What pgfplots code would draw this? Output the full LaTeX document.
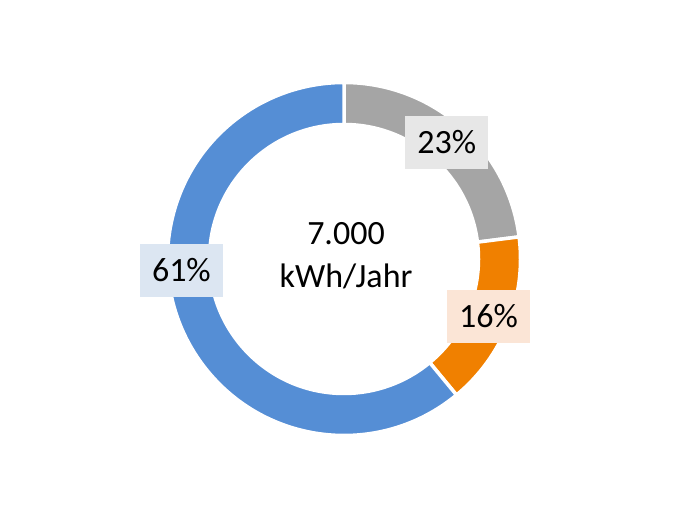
\documentclass[border=0pt]{standalone}
\usepackage{pgfplots}
\usepackage{pgfplotstable}
\pgfplotsset{compat=1.18}
\usepackage{fontspec}
\setmainfont{Carlito}

\definecolor{grayseg}{HTML}{A5A5A5}
\definecolor{orangeseg}{HTML}{F08000}
\definecolor{blueseg}{HTML}{558ED5}
\definecolor{graybox}{HTML}{E7E7E7}
\definecolor{orangebox}{HTML}{FBE5D6}
\definecolor{bluebox}{HTML}{DCE6F2}

% share in percent, segment colour, label box colour, label angle, label radius
\pgfplotstableread{
share col      box       la    lr
23    grayseg  graybox   mid   155.5
16    orangeseg orangebox mid  155.5
61    blueseg  bluebox   184   163
}\donut

\begin{document}
\begin{tikzpicture}
\begin{axis}[
    scale only axis,
    width=680bp, height=510bp,
    xmin=0, xmax=680, ymin=0, ymax=510,
    hide axis, clip=false,
]
\def\cx{344}
\def\cy{251}
\def\rout{176.5}
\def\rin{134.5}
\pgfplotstablegetrowsof{\donut}
\pgfmathtruncatemacro\nrows{\pgfplotsretval-1}
\def\startang{90}
\pgfplotsforeachungrouped \i in {0,...,\nrows}{
    \pgfplotstablegetelem{\i}{share}\of\donut \let\share\pgfplotsretval
    \pgfplotstablegetelem{\i}{col}\of\donut \let\col\pgfplotsretval
    \pgfplotstablegetelem{\i}{box}\of\donut \let\boxcol\pgfplotsretval
    \pgfplotstablegetelem{\i}{la}\of\donut \let\la\pgfplotsretval
    \pgfplotstablegetelem{\i}{lr}\of\donut \let\lr\pgfplotsretval
    \pgfmathsetmacro\endang{\startang-3.6*\share}
    \def\mid{mid}
    \ifx\la\mid
        \pgfmathsetmacro\la{(\startang+\endang)/2}
    \fi
    \pgfmathsetmacro\lx{\cx+\lr*cos(\la)}
    \pgfmathsetmacro\ly{\cy+\lr*sin(\la)}
    \edef\doit{%
        \noexpand\fill[\col, draw=white, line width=3.5bp, shift={(axis cs:\cx,\cy)}]
            (canvas polar cs:angle=\startang,radius=\rout bp)
            arc[start angle=\startang, end angle=\endang, radius=\rout bp]
            -- (canvas polar cs:angle=\endang,radius=\rin bp)
            arc[start angle=\endang, end angle=\startang, radius=\rin bp]
            -- cycle;
        \noexpand\node[fill=\boxcol, minimum width=83bp, minimum height=53bp,
            inner sep=0pt, font=\noexpand\fontsize{34bp}{40bp}\noexpand\selectfont]
            at (axis cs:\lx,\ly) {\share\noexpand\%};
    }
    \doit
    \global\let\startang\endang
}
\node[anchor=base, font=\fontsize{34bp}{43bp}\selectfont] at (axis cs:346,265) {7.000};
\node[anchor=base, font=\fontsize{34bp}{43bp}\selectfont] at (axis cs:346,222) {kWh/Jahr};
\end{axis}
\path[use as bounding box] (current axis.south west) rectangle (current axis.north east);
\end{tikzpicture}
\end{document}
